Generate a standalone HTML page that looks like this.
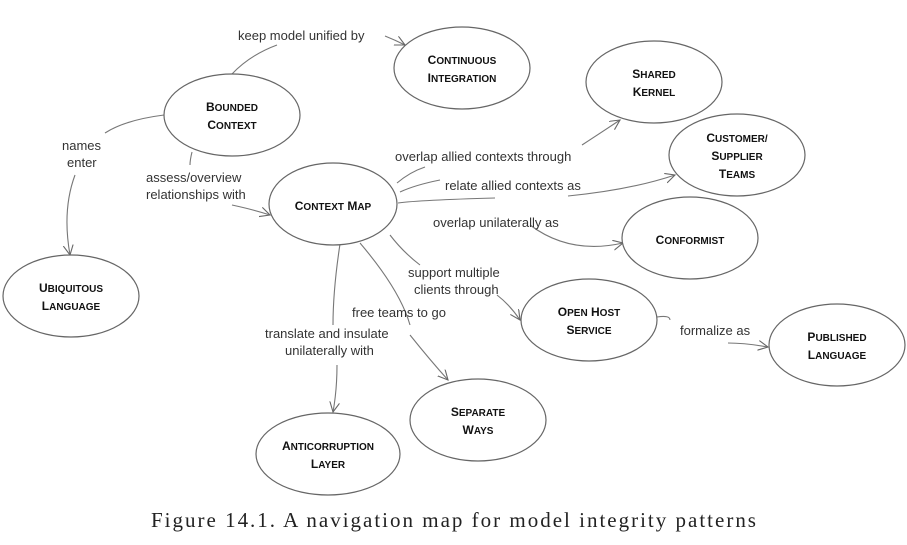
<!DOCTYPE html>
<html><head><meta charset="utf-8"><style>
html,body{margin:0;padding:0;background:#fff;}
svg{display:block;}
.n{font-family:"Liberation Sans",sans-serif;font-weight:bold;font-size:12px;fill:#111;text-anchor:middle;}
.l{font-family:"Liberation Sans",sans-serif;font-size:13px;fill:#333;}
.e{fill:#fff;stroke:#666;stroke-width:1.2;}
.c{fill:none;stroke:#777;stroke-width:1.1;}
</style></head><body>
<svg width="907" height="545" viewBox="0 0 907 545" xmlns="http://www.w3.org/2000/svg">
<defs><marker id="a" markerWidth="12" markerHeight="12" refX="10" refY="5" orient="auto" markerUnits="userSpaceOnUse"><path d="M0,0 L10,5 L0,10" fill="none" stroke="#666" stroke-width="1.1"/></marker></defs>
<path class="c" d="M232,74 Q250,55 277,45"/>
<path class="c" d="M385,36 Q395,40 405,45" marker-end="url(#a)"/>
<path class="c" d="M164,115 Q125,120 105,133"/>
<path class="c" d="M75,175 Q62,210 70,255" marker-end="url(#a)"/>
<path class="c" d="M192,152 Q190,160 190,165"/>
<path class="c" d="M232,205 Q255,210 270,215" marker-end="url(#a)"/>
<path class="c" d="M397,183 Q410,172 425,167"/>
<path class="c" d="M582,145 Q605,130 620,120" marker-end="url(#a)"/>
<path class="c" d="M400,192 Q415,185 440,180"/>
<path class="c" d="M568,196 Q630,190 675,175" marker-end="url(#a)"/>
<path class="c" d="M398,203 Q420,200 495,198"/>
<path class="c" d="M530,225 Q570,255 623,243" marker-end="url(#a)"/>
<path class="c" d="M390,235 Q403,252 420,265"/>
<path class="c" d="M497,295 Q510,305 520,320" marker-end="url(#a)"/>
<path class="c" d="M657,317 Q670,315 670,320"/>
<path class="c" d="M728,343 Q745,343 768,347" marker-end="url(#a)"/>
<path class="c" d="M340,244 Q333,290 333,325"/>
<path class="c" d="M337,365 Q337,390 333,412" marker-end="url(#a)"/>
<path class="c" d="M360,243 Q400,290 410,325"/>
<path class="c" d="M410,335 Q430,360 448,380" marker-end="url(#a)"/>
<ellipse class="e" cx="462" cy="68" rx="68" ry="41"/>
<text class="n" x="462" y="64">C<tspan font-size="10">ONTINUOUS</tspan></text>
<text class="n" x="462" y="82">I<tspan font-size="10">NTEGRATION</tspan></text>
<ellipse class="e" cx="654" cy="82" rx="68" ry="41"/>
<text class="n" x="654" y="78">S<tspan font-size="10">HARED</tspan></text>
<text class="n" x="654" y="96">K<tspan font-size="10">ERNEL</tspan></text>
<ellipse class="e" cx="232" cy="115" rx="68" ry="41"/>
<text class="n" x="232" y="111">B<tspan font-size="10">OUNDED</tspan></text>
<text class="n" x="232" y="129">C<tspan font-size="10">ONTEXT</tspan></text>
<ellipse class="e" cx="737" cy="155" rx="68" ry="41"/>
<text class="n" x="737" y="142">C<tspan font-size="10">USTOMER/</tspan></text>
<text class="n" x="737" y="160">S<tspan font-size="10">UPPLIER</tspan></text>
<text class="n" x="737" y="178">T<tspan font-size="10">EAMS</tspan></text>
<ellipse class="e" cx="333" cy="204" rx="64" ry="41"/>
<text class="n" x="333" y="210">C<tspan font-size="10">ONTEXT</tspan> M<tspan font-size="10">AP</tspan></text>
<ellipse class="e" cx="690" cy="238" rx="68" ry="41"/>
<text class="n" x="690" y="244">C<tspan font-size="10">ONFORMIST</tspan></text>
<ellipse class="e" cx="71" cy="296" rx="68" ry="41"/>
<text class="n" x="71" y="292">U<tspan font-size="10">BIQUITOUS</tspan></text>
<text class="n" x="71" y="310">L<tspan font-size="10">ANGUAGE</tspan></text>
<ellipse class="e" cx="589" cy="320" rx="68" ry="41"/>
<text class="n" x="589" y="316">O<tspan font-size="10">PEN</tspan> H<tspan font-size="10">OST</tspan></text>
<text class="n" x="589" y="334">S<tspan font-size="10">ERVICE</tspan></text>
<ellipse class="e" cx="837" cy="345" rx="68" ry="41"/>
<text class="n" x="837" y="341">P<tspan font-size="10">UBLISHED</tspan></text>
<text class="n" x="837" y="359">L<tspan font-size="10">ANGUAGE</tspan></text>
<ellipse class="e" cx="478" cy="420" rx="68" ry="41"/>
<text class="n" x="478" y="416">S<tspan font-size="10">EPARATE</tspan></text>
<text class="n" x="478" y="434">W<tspan font-size="10">AYS</tspan></text>
<ellipse class="e" cx="328" cy="454" rx="72" ry="41"/>
<text class="n" x="328" y="450">A<tspan font-size="10">NTICORRUPTION</tspan></text>
<text class="n" x="328" y="468">L<tspan font-size="10">AYER</tspan></text>
<text class="l" x="238" y="40">keep model unified by</text>
<text class="l" x="62" y="150">names</text>
<text class="l" x="67" y="167">enter</text>
<text class="l" x="146" y="182">assess/overview</text>
<text class="l" x="146" y="199">relationships with</text>
<text class="l" x="395" y="161">overlap allied contexts through</text>
<text class="l" x="445" y="190">relate allied contexts as</text>
<text class="l" x="433" y="227">overlap unilaterally as</text>
<text class="l" x="408" y="277">support multiple</text>
<text class="l" x="414" y="294">clients through</text>
<text class="l" x="352" y="317">free teams to go</text>
<text class="l" x="265" y="338">translate and insulate</text>
<text class="l" x="285" y="355">unilaterally with</text>
<text class="l" x="680" y="335">formalize as</text>
<text x="151" y="527" textLength="605" lengthAdjust="spacing" font-family="Liberation Serif,serif" font-size="21" fill="#222">Figure 14.1. A navigation map for model integrity patterns</text>
</svg>
</body></html>
